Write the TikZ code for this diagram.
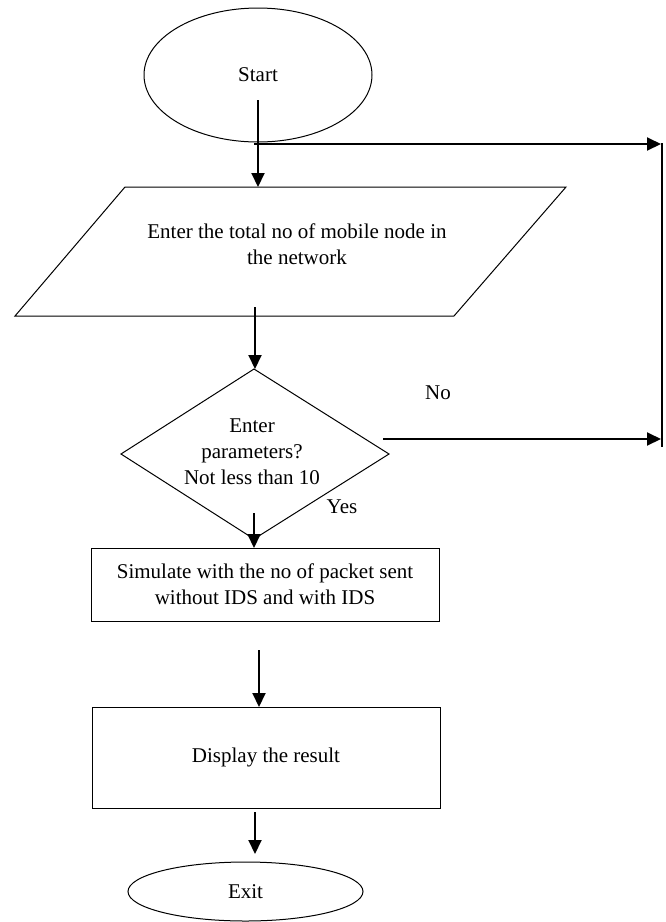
\documentclass[tikz,border=0pt]{standalone}
\usepackage{fontspec}
\setmainfont{Liberation Serif}
\usetikzlibrary{shapes.geometric,arrows.meta}
\tikzset{
  shapeline/.style={draw=black,line width=1pt},
  termbox/.style={shapeline,ellipse,inner sep=0pt},
  procbox/.style={shapeline,rectangle,inner sep=0pt,align=center},
  txt/.style={inner sep=0pt,align=center},
  flow/.style={line width=2pt,-{Triangle[length=14pt,width=13pt]}},
  loopline/.style={line width=1.5pt}
}
\begin{document}
\begin{tikzpicture}[x=1pt,y=-1pt,font=\fontsize{21}{26}\selectfont]
\useasboundingbox (0,0) rectangle (665,922);
% shapes
\node[termbox,minimum width=228pt,minimum height=134pt] (start) at (258,75) {Start};
\draw[shapeline] (125,187) -- (566,187) -- (454,316) -- (15,316) -- cycle;
\node[txt] (inp) at (297,244) {Enter the total no of mobile node in\\the network};
\draw[shapeline] (254,369) -- (389,454) -- (254,539) -- (121,454) -- cycle;
\node[txt] (dec) at (252,452) {Enter\\parameters?\\Not less than 10};
\node[procbox,minimum width=348pt,minimum height=73pt] (sim) at (265,584.5) {Simulate with the no of packet sent\\without IDS and with IDS};
\node[procbox,minimum width=348pt,minimum height=101pt] (disp) at (266,757.5) {Display the result};
\node[termbox,minimum width=235pt,minimum height=59pt] (exit) at (245.5,891.5) {Exit};
% labels
\node[txt] (no) at (438,393) {No};
\node[txt] (yes) at (342,507) {Yes};
% connector end points
\coordinate (s1) at (258,100);
\coordinate (e1) at (258,187);
\coordinate (h0) at (254,144);
\coordinate (h1) at (661,144);
\coordinate (vtop) at (662,143);
\coordinate (vbot) at (662,447);
\coordinate (s2) at (255,307);
\coordinate (e2) at (255,369);
\coordinate (s3) at (383,439);
\coordinate (e3) at (661,439);
\coordinate (s4) at (254,513);
\coordinate (e4) at (254,548);
\coordinate (s5) at (259,650);
\coordinate (e5) at (259,707);
\coordinate (s6) at (255,812);
\coordinate (e6) at (255,854);
% connectors
\draw[flow] (s1) -- (e1);
\draw[flow] (h0) -- (h1);
\draw[loopline] (vtop) -- (vbot);
\draw[flow] (s2) -- (e2);
\draw[flow] (s3) -- (e3);
\draw[flow] (s4) -- (e4);
\draw[flow] (s5) -- (e5);
\draw[flow] (s6) -- (e6);
\end{tikzpicture}
\end{document}
